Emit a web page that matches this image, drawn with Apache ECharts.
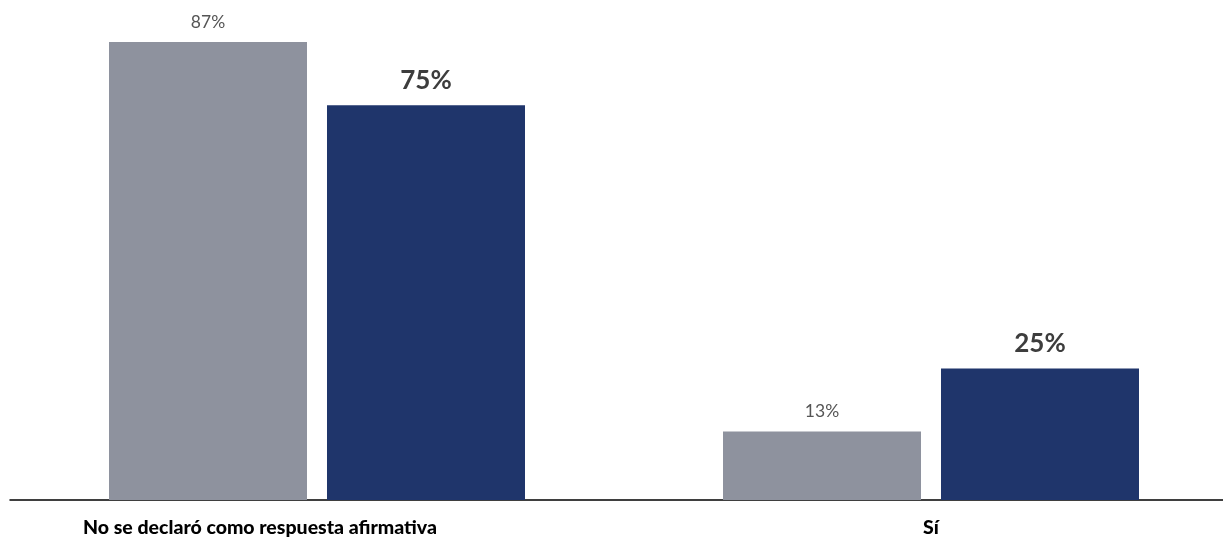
<!DOCTYPE html>
<html>
<head>
<meta charset="utf-8">
<script src="https://cdn.jsdelivr.net/npm/echarts@6/dist/echarts.min.js"></script>
<style>html,body{margin:0;padding:0;background:#fff;overflow:hidden;}#c{width:1238px;height:538px;}</style>
</head>
<body>
<div id="c"></div>
<script>
const categories = ['No se declaró como respuesta afirmativa', 'Sí'];
const seriesA = [87, 13];
const seriesB = [75, 25];
const chart = echarts.init(document.getElementById('c'));
chart.setOption({
  animation: false,
  grid: { left: 10, right: 0, top: 0, bottom: 38, containLabel: false },
  xAxis: {
    type: 'category',
    data: categories,
    axisLine: { lineStyle: { color: '#000', width: 1.5 } },
    axisTick: { show: false },
    axisLabel: {
      interval: 0,
      margin: 18,
      formatter: function (v, i) { return i === 0 ? '{a|' + v + '}' : '{b|' + v + '}'; },
      rich: {
        a: { fontFamily: 'Lato', fontWeight: 900, fontSize: 19.5, color: '#000', padding: [0, 114, 0, 0] },
        b: { fontFamily: 'Lato', fontWeight: 900, fontSize: 19.5, color: '#000' }
      }
    }
  },
  yAxis: { type: 'value', min: 0, max: 95, show: false, splitLine: { show: false } },
  series: [
    {
      type: 'bar', data: seriesA, barWidth: 198, barGap: '10.1%',
      itemStyle: { color: '#8e929e' },
      label: { show: true, position: 'top', distance: 11, formatter: '{c}%', fontFamily: 'Lato', fontSize: 17.5, color: '#555' }
    },
    {
      type: 'bar', data: seriesB, barWidth: 198,
      itemStyle: { color: '#1f356b' },
      label: { show: true, position: 'top', distance: 12, formatter: '{c}%', fontFamily: 'Lato', fontWeight: 'bold', fontSize: 26, color: '#3d3d3d' }
    }
  ]
});
</script>
</body>
</html>
